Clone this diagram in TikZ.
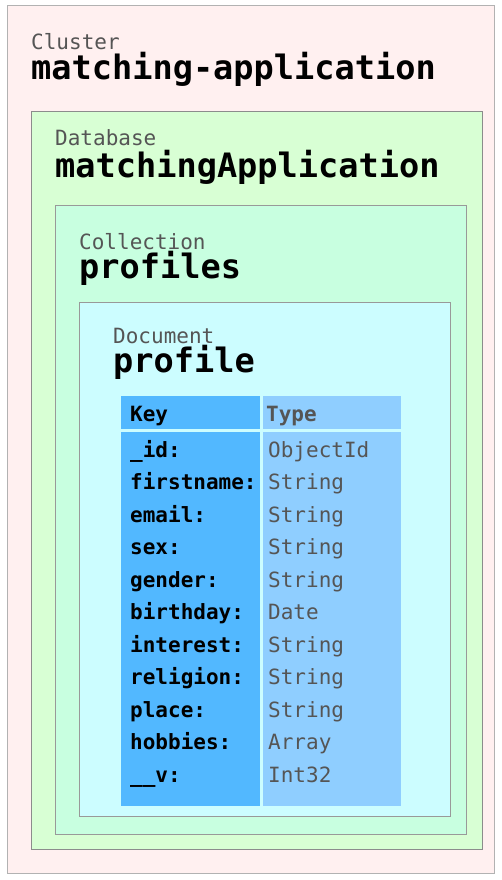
\documentclass[tikz,border=0pt]{standalone}
\usepackage{fontspec}
\newfontfamily\monofont{DejaVu Sans Mono}

\definecolor{clusterfill}{RGB}{255,240,240}
\definecolor{dbfill}{RGB}{216,255,212}
\definecolor{collfill}{RGB}{200,255,224}
\definecolor{docfill}{RGB}{204,253,255}
\definecolor{keyfill}{RGB}{82,184,255}
\definecolor{typefill}{RGB}{143,206,255}
\definecolor{labelgray}{RGB}{85,85,85}

\tikzset{
  levelbox/.style={draw=#1, line width=1pt},
  kindlabel/.style={anchor=base west, inner sep=0pt, text=labelgray,
    font=\monofont\fontsize{21}{25}\selectfont},
  namelabel/.style={anchor=base west, inner sep=0pt, text=black,
    font=\monofont\bfseries\fontsize{33.6}{40}\selectfont},
  keytext/.style={anchor=base west, inner sep=0pt, text=black,
    font=\monofont\bfseries\fontsize{21}{25}\selectfont},
  typetext/.style={anchor=base west, inner sep=0pt, text=labelgray,
    font=\monofont\fontsize{21}{25}\selectfont}
}

\begin{document}
\begin{tikzpicture}[x=1pt, y=-1pt]
  \useasboundingbox (0,0) rectangle (501,880);

  % nested boxes
  \draw[levelbox=black!30, fill=clusterfill] (7,6) rectangle (494,873);
  \draw[levelbox=black!45, fill=dbfill] (31,112) rectangle (482,849);
  \draw[levelbox=black!40, fill=collfill] (55,205) rectangle (466,834);
  \draw[levelbox=black!40, fill=docfill] (79,302) rectangle (450,816);

  % Labels
  \node[kindlabel] (cluster-kind) at (31,50) {Cluster};
  \node[namelabel] (cluster-name) at (31,80) {matching-application};
  \node[kindlabel] (db-kind) at (55,146) {Database};
  \node[namelabel] (db-name) at (55,177) {matchingApplication};
  \node[kindlabel] (coll-kind) at (79,249) {Collection};
  \node[namelabel] (coll-name) at (79,278) {profiles};
  \node[kindlabel] (doc-kind) at (113,343) {Document};
  \node[namelabel] (doc-name) at (113,372) {profile};

  % table
  \fill[keyfill] (121,396) rectangle (260,429);
  \fill[typefill] (263,396) rectangle (401,429);
  \fill[keyfill] (121,432) rectangle (260,806);
  \fill[typefill] (263,432) rectangle (401,806);

  \node[keytext] (key-head) at (130,421) {Key};
  \node[keytext, text=labelgray] (type-head) at (266,421) {Type};

  \foreach \k/\t [count=\i from 0] in {
      \_id:/ObjectId,
      firstname:/String,
      email:/String,
      sex:/String,
      gender:/String,
      birthday:/Date,
      interest:/String,
      religion:/String,
      place:/String,
      hobbies:/Array,
      \_\_v:/Int32}
  {
    \node[keytext] (key-\i) at (130,457+32.5*\i) {\k};
    \node[typetext] (type-\i) at (268,457+32.5*\i) {\t};
  }
\end{tikzpicture}
\end{document}
